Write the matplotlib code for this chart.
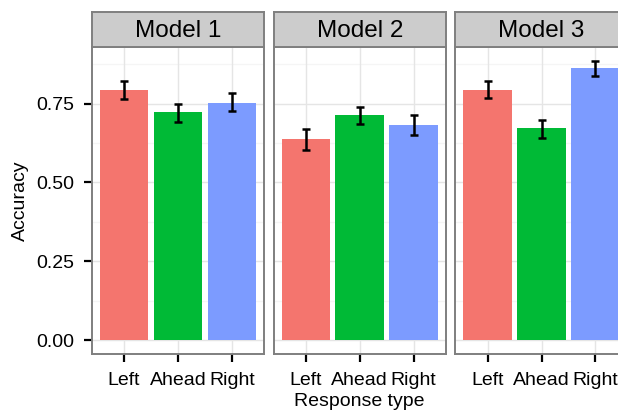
import numpy as np
import matplotlib.pyplot as plt

plt.rcParams['font.family'] = ['Liberation Sans', 'DejaVu Sans']

# accuracy per response type, one panel per model
responses = ["Left", "Ahead", "Right"]
models = ["Model 1", "Model 2", "Model 3"]
acc_m1 = [0.794, 0.722, 0.753]
acc_m2 = [0.636, 0.712, 0.681]
acc_m3 = [0.794, 0.671, 0.861]
lo_m1 = [0.764, 0.691, 0.725]
lo_m2 = [0.604, 0.685, 0.649]
lo_m3 = [0.767, 0.640, 0.837]
hi_m1 = [0.820, 0.747, 0.783]
hi_m2 = [0.670, 0.738, 0.712]
hi_m3 = [0.820, 0.699, 0.884]

accs = [acc_m1, acc_m2, acc_m3]
lows = [lo_m1, lo_m2, lo_m3]
highs = [hi_m1, hi_m2, hi_m3]
colors = ["#F4756E", "#00BA36", "#7C9BFF"]

W, H = 618, 412
fig = plt.figure(figsize=(W / 100, H / 100), dpi=100)

def box(x0, y0, x1, y1):
    # pixel box (top-left origin) -> figure fraction rect
    return [x0 / W, 1 - y1 / H, (x1 - x0) / W, (y1 - y0) / H]

panel_w, gap = 172.5, 9.3
left0, top, bottom, strip_top = 91.7, 47.3, 354.0, 11.7

ymax = max(max(h) for h in highs)
ylim = (-0.05 * ymax, 1.05 * ymax)
x = np.arange(1, 4)

for i, model in enumerate(models):
    x0 = left0 + i * (panel_w + gap)
    ax = fig.add_axes(box(x0, top, x0 + panel_w, bottom))
    ax.set_xlim(0.4, 3.6)
    ax.set_ylim(*ylim)

    for yv in [0.125, 0.375, 0.625, 0.875]:
        ax.axhline(yv, color="#F5F5F5", lw=1.0, zorder=0)
    for yv in [0, 0.25, 0.5, 0.75]:
        ax.axhline(yv, color="#E5E5E5", lw=1.0, zorder=0)
    for xv in x:
        ax.axvline(xv, color="#E5E5E5", lw=1.0, zorder=0)

    ax.bar(x, accs[i], width=0.9, color=colors, zorder=2)
    acc = np.array(accs[i])
    yerr = [acc - np.array(lows[i]), np.array(highs[i]) - acc]
    ax.errorbar(x, acc, yerr=yerr, fmt="none", ecolor="black",
                elinewidth=1.8, capsize=2.6, capthick=1.8, zorder=3)

    for s in ax.spines.values():
        s.set_color("#7F7F7F")
        s.set_linewidth(1.4)

    ax.set_xticks(x)
    ax.set_xticklabels(responses, fontsize=14)
    ax.tick_params(axis="x", direction="out", length=6, width=1.6, pad=7)
    if i == 0:
        ax.set_yticks([0, 0.25, 0.5, 0.75])
        ax.set_yticklabels(["0.00", "0.25", "0.50", "0.75"], fontsize=14)
        ax.tick_params(axis="y", direction="out", length=6, width=1.6, pad=6.5)
    else:
        ax.set_yticks([])

    # facet strip
    sax = fig.add_axes(box(x0, strip_top, x0 + panel_w, top))
    sax.set_facecolor("#CCCCCC")
    sax.set_xticks([])
    sax.set_yticks([])
    for s in sax.spines.values():
        s.set_color("#7F7F7F")
        s.set_linewidth(1.4)
    sax.text(0.5, 0.45, model, ha="center", va="center", fontsize=17.5,
             transform=sax.transAxes)

fig.text(359.6 / W, 1 - 401 / H, "Response type", ha="center", va="center",
         fontsize=14)
fig.text(20 / W, 1 - 200.5 / H, "Accuracy", ha="center", va="center",
         rotation=90, fontsize=14)

fig.savefig("out.png", dpi=100)
